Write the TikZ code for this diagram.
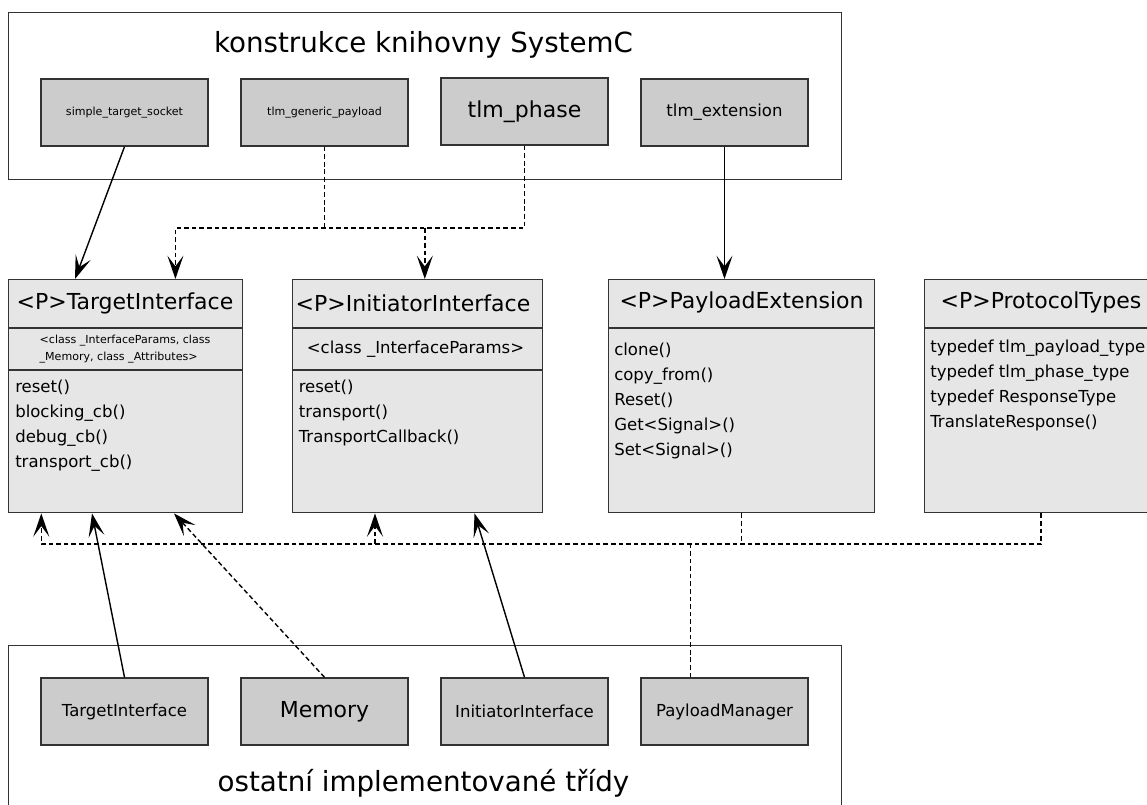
\documentclass[tikz,border=0pt]{standalone}
\usepackage{fontspec}
\setmainfont{DejaVu Sans}
\usetikzlibrary{arrows.meta,calc}
\definecolor{edge}{HTML}{333333}
\definecolor{stubfill}{HTML}{CCCCCC}
\definecolor{classfill}{HTML}{E6E6E6}

\begin{document}
\begin{tikzpicture}[x=0.75pt, y=-0.75pt,
  boxline/.style={draw=edge, line width=1.05pt, inner sep=0pt},
  container/.style={boxline, fill=white, anchor=north west},
  stub/.style={boxline, fill=stubfill, minimum width=125.25pt, minimum height=50.25pt, anchor=center},
  classbox/.style={boxline, fill=classfill, minimum height=174.75pt, anchor=north west},
  sepline/.style={draw=edge, line width=1.05pt},
  conn/.style={line width=1.05pt, draw=black},
  dep/.style={conn, dash pattern=on 3.5pt off 2.2pt},
  arr/.style={-{Stealth[length=17.5pt,width=12pt,inset=8pt]}},
  f-title/.style={font=\fontsize{20.8pt}{25pt}\selectfont},
  f-head/.style={font=\fontsize{16.5pt}{20pt}\selectfont},
  f-mid/.style={font=\fontsize{12.4pt}{15pt}\selectfont},
  f-tiny/.style={font=\fontsize{8.3pt}{12.5pt}\selectfont},
  member/.style={f-mid, inner sep=0pt, anchor=base west},
]
\useasboundingbox (0,0) rectangle (1147,805);
\clip (0,0) rectangle (1147,805);

% ---- SystemC library package ----
\node[container, minimum width=624.75pt, minimum height=125.25pt] (lib) at (8,12) {};
\node[f-title] (libtitle) at (423.5,45) {konstrukce knihovny SystemC};
\node[stub, f-tiny] (sts) at (124.5,112.5) {simple\_target\_socket};
\node[stub, f-tiny] (gp)  at (324.5,112.5) {tlm\_generic\_payload};
\node[stub, f-head] (ph)  at (524.5,111.5) {tlm\_phase};
\node[stub, f-mid]  (ext) at (724.5,112.5) {tlm\_extension};

% ---- template classes ----
\node[classbox, minimum width=175.5pt] (tgt) at (8,279) {};
\draw[sepline] ($(tgt.north west)+(0,49)$) -- ($(tgt.north east)+(0,49)$);
\draw[sepline] ($(tgt.north west)+(0,91)$) -- ($(tgt.north east)+(0,91)$);
\node[f-head] (tgt-name) at (125,303.5) {<P>TargetInterface};
\node[f-tiny, align=left] (tgt-par) at (125,349) {<class \_InterfaceParams, class\\\_Memory, class \_Attributes>};
\foreach \t [count=\i] in {reset(), blocking\_cb(), debug\_cb(), transport\_cb()}
  \node[member] (tgt-m\i) at (15,{393+25*(\i-1)}) {\t};

\node[classbox, minimum width=187.5pt] (ini) at (292,279) {};
\draw[sepline] ($(ini.north west)+(0,49)$) -- ($(ini.north east)+(0,49)$);
\draw[sepline] ($(ini.north west)+(0,91)$) -- ($(ini.north east)+(0,91)$);
\node[f-head] (ini-name) at (413,303.5) {<P>InitiatorInterface};
\node[f-mid] (ini-par) at (415.5,349) {<class \_InterfaceParams>};
\foreach \t [count=\i] in {reset(), transport(), TransportCallback()}
  \node[member] (ini-m\i) at (298.5,{393+25*(\i-1)}) {\t};

\node[classbox, minimum width=199.5pt] (pext) at (608,279) {};
\draw[sepline] ($(pext.north west)+(0,49)$) -- ($(pext.north east)+(0,49)$);
\node[f-head] (pext-name) at (741.5,302.5) {<P>PayloadExtension};
\foreach \t [count=\i] in {clone(), copy\_from(), Reset(), Get<Signal>(), Set<Signal>()}
  \node[member] (pext-m\i) at (614,{355.5+25*(\i-1)}) {\t};

\node[classbox, minimum width=174.75pt] (ptyp) at (924,279) {};
\draw[sepline] ($(ptyp.north west)+(0,49)$) -- ($(ptyp.north east)+(0,49)$);
\node[f-head] (ptyp-name) at (1041,302.5) {<P>ProtocolTypes};
\foreach \t [count=\i] in {typedef tlm\_payload\_type, typedef tlm\_phase\_type, typedef ResponseType, TranslateResponse()}
  \node[member] (ptyp-m\i) at (930,{353+25*(\i-1)}) {\t};

% ---- implemented classes package ----
\node[container, minimum width=624.75pt, minimum height=165pt] (impl) at (8,645) {};
\node[stub, f-mid]  (bti) at (124.5,711.5) {TargetInterface};
\node[stub, f-head] (mem) at (324.5,711.5) {Memory};
\node[stub, f-mid]  (bii) at (524.5,711.5) {InitiatorInterface};
\node[stub, f-mid]  (pm)  at (724.5,711.5) {PayloadManager};
\node[f-title] (impltitle) at (423.5,783) {ostatní implementované třídy};

% ---- connectors from the library ----
\draw[conn, arr] (sts.south) -- ($(tgt.north west)+(67,0)$);
\coordinate (jT) at (175.4,228);
\coordinate (jI) at (424.8,228);
\draw[dep] (gp.south) -- (gp.south |- jT);
\draw[dep, arr] (ph.south) |- (jT) -- (jT |- tgt.north);
\draw[dep, arr] (jI) -- (jI |- ini.north);
\draw[conn, arr] (ext.south) -- (ext.south |- pext.north);

% ---- dependency bus below the templates ----
\coordinate (busL) at (41.3,544);
\coordinate (pxb) at ($(pext.south west)+(133.3,0)$);
\coordinate (ptb) at ($(ptyp.south west)+(117,0)$);
\coordinate (pmt) at ($(pm.north west)+(50,0)$);
\coordinate (iab) at ($(ini.south west)+(83,0)$);
\draw[dep, arr] (ptb) |- (busL) -- (busL |- tgt.south);
\draw[dep] (pxb) -- (pxb |- busL);
\draw[dep] (pmt) -- (pmt |- busL);
\draw[dep, arr] (iab |- busL) -- (iab);

% ---- implementations to templates ----
\draw[conn, arr] (bti.north) -- ($(tgt.south west)+(84,0)$);
\draw[dep, arr] (mem.north) -- ($(tgt.south west)+(166,0)$);
\draw[conn, arr] (bii.north) -- ($(ini.south west)+(182.5,0)$);
\end{tikzpicture}
\end{document}
